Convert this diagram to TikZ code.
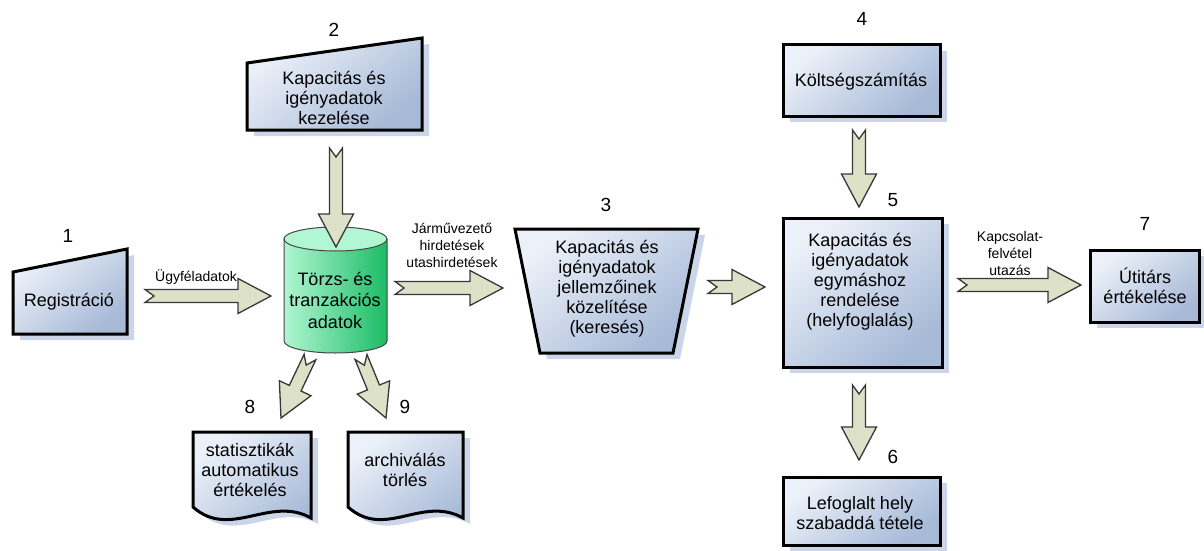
\documentclass[tikz,border=0pt]{standalone}
\usepackage{fontspec}
\setmainfont{Liberation Sans}
\usetikzlibrary{calc}

\definecolor{boxlight}{RGB}{236,241,249}
\definecolor{boxdark}{RGB}{166,185,215}
\definecolor{shadowblue}{RGB}{202,213,233}
\definecolor{arrowfill}{RGB}{221,225,200}
\definecolor{arrowline}{RGB}{55,55,55}
\definecolor{cylmint}{RGB}{176,246,210}
\definecolor{cylgreen}{RGB}{28,188,102}
\definecolor{cyltop}{RGB}{178,247,212}
\definecolor{cylline}{RGB}{70,70,70}

\tikzset{
  procbox/.style={draw=black, line width=3pt, line join=miter,
    top color=boxlight, bottom color=boxdark, shading angle=40},
  boxshadow/.style={fill=shadowblue},
  boxtext/.style={align=center, font=\fontsize{18}{20}\selectfont, inner sep=0pt},
  numlabel/.style={font=\fontsize{19}{20}\selectfont, inner sep=0pt},
  flowlabel/.style={align=center, font=\fontsize{14}{17}\selectfont, inner sep=0pt},
  fatarrow/.style={fill=arrowfill, draw=arrowline, line width=1.3pt, line join=miter},
}

% notched block arrow from #1 to #2
\newcommand\fatarrow[2]{%
  \coordinate (fahead) at ($(#2)!33pt!(#1)$);
  \path[fatarrow]
    ($(#1)!6.5pt!90:(#2)$) -- ($(#1)!9pt!(#2)$) -- ($(#1)!6.5pt!-90:(#2)$)
    -- ($(fahead)!6.5pt!-90:(#2)$) -- ($(fahead)!17.5pt!-90:(#2)$) -- (#2)
    -- ($(fahead)!17.5pt!90:(#2)$) -- ($(fahead)!6.5pt!90:(#2)$) -- cycle;
}

\begin{document}
\begin{tikzpicture}[x=1pt, y=-1pt]
\useasboundingbox (0,0) rectangle (1204,551);

% ---- 1: manual input "Registráció"
\fill[boxshadow, shift={(7,6)}] (13,272) -- (127,249) -- (127,334) -- (13,334) -- cycle;
\path[procbox] (13,272) -- (127,249) -- (127,334) -- (13,334) -- cycle;
\node[boxtext] (reg) at (69,302) {Registráció};
\node[numlabel] (n1) at (68,236) {1};

% ---- 2: manual input "Kapacitás és igényadatok kezelése"
\fill[boxshadow, shift={(7,6)}] (247,63) -- (422,38) -- (422,130) -- (247,130) -- cycle;
\path[procbox] (247,63) -- (422,38) -- (422,130) -- (247,130) -- cycle;
\node[boxtext] (kez) at (334,98) {Kapacitás és\\igényadatok\\kezelése};
\node[numlabel] (n2) at (334,30) {2};

% ---- database cylinder
\shade[left color=cylmint, right color=cylgreen, draw=cylline, line width=1pt]
  (284,239) -- (284,341)
  .. controls (284,347.6) and (307.1,353) .. (335.5,353)
  .. controls (363.9,353) and (387,347.6) .. (387,341)
  -- (387,239) -- cycle;
\path[fill=cyltop, draw=cylline, line width=1pt] (335.5,239) ellipse (51.5 and 12);
\node[boxtext, font=\fontsize{18}{21.5}\selectfont] (db) at (335,300) {Törzs- és\\tranzakciós\\adatok};

% ---- 3: trapezoid "közelítése (keresés)"
\fill[boxshadow, shift={(7,6)}] (515,229) -- (698,229) -- (673,353) -- (540,353) -- cycle;
\path[procbox] (515,229) -- (698,229) -- (673,353) -- (540,353) -- cycle;
\node[boxtext] (kereses) at (607,289) {Kapacitás és\\igényadatok\\jellemzőinek\\közelítése\\(keresés)};
\node[numlabel] (n3) at (606,205) {3};

% ---- 4: "Költségszámítás"
\fill[boxshadow] (790,51) rectangle (947,122);
\path[procbox] (783,45) rectangle (940,116);
\node[boxtext] (koltseg) at (861,82) {Költségszámítás};
\node[numlabel] (n4) at (862,19) {4};

% ---- 5: "helyfoglalás"
\fill[boxshadow] (790,224) rectangle (949,373);
\path[procbox] (783,218) rectangle (942,367);
\node[boxtext] (hely) at (860,282) {Kapacitás és\\igényadatok\\egymáshoz\\rendelése\\(helyfoglalás)};
\node[numlabel] (n5) at (893,200) {5};

% ---- 6: "Lefoglalt hely szabaddá tétele"
\fill[boxshadow] (790,483) rectangle (947,551);
\path[procbox] (783,477) rectangle (940,545);
\node[boxtext] (szabad) at (860,513) {Lefoglalt hely\\szabaddá tétele};
\node[numlabel] (n6) at (893,457) {6};

% ---- 7: "Útitárs értékelése"
\fill[boxshadow] (1097,256) rectangle (1206,328);
\path[procbox] (1090,250) rectangle (1199,322);
\node[boxtext] (utitars) at (1145,286) {Útitárs\\értékelése};
\node[numlabel] (n7) at (1145,224) {7};

% ---- 8, 9: documents
\fill[boxshadow, shift={(7,6)}] (193,432) -- (311,432) -- (311,518)
  .. controls (270,495) and (230,540) .. (193,507) -- cycle;
\path[procbox] (193,432) -- (311,432) -- (311,518)
  .. controls (270,495) and (230,540) .. (193,507) -- cycle;
\node[boxtext] (stat) at (250,470) {statisztikák\\automatikus\\értékelés};
\node[numlabel] (n8) at (250,407) {8};

\fill[boxshadow, shift={(7,6)}] (348,432) -- (463,432) -- (463,518)
  .. controls (422,495) and (385,540) .. (348,507) -- cycle;
\path[procbox] (348,432) -- (463,432) -- (463,518)
  .. controls (422,495) and (385,540) .. (348,507) -- cycle;
\node[boxtext] (arch) at (405,470) {archiválás\\törlés};
\node[numlabel] (n9) at (405,407) {9};

% ---- connector end points
\coordinate (a1s) at (145,296);  \coordinate (a1e) at (271,296);
\coordinate (a2s) at (336,148);  \coordinate (a2e) at (336,247);
\coordinate (a3s) at (395,288);  \coordinate (a3e) at (503,288);
\coordinate (a4s) at (859,130);  \coordinate (a4e) at (859,207);
\coordinate (a5s) at (708,287);  \coordinate (a5e) at (765,287);
\coordinate (a6s) at (859,385);  \coordinate (a6e) at (859,460);
\coordinate (a7s) at (958,285);  \coordinate (a7e) at (1081,285);
\coordinate (a8s) at (310,357);  \coordinate (a8e) at (281,418);
\coordinate (a9s) at (361,357);  \coordinate (a9e) at (386,418);

\fatarrow{a1s}{a1e}
\fatarrow{a2s}{a2e}
\fatarrow{a3s}{a3e}
\fatarrow{a4s}{a4e}
\fatarrow{a5s}{a5e}
\fatarrow{a6s}{a6e}
\fatarrow{a7s}{a7e}
\fatarrow{a8s}{a8e}
\fatarrow{a9s}{a9e}

% ---- flow labels
\node[flowlabel] (l1) at (196,277) {Ügyféladatok};
\node[flowlabel] (l3) at (452,245) {Járművezető\\hirdetések\\utashirdetések};
\node[flowlabel] (l7) at (1010,253) {Kapcsolat-\\felvétel\\utazás};
\end{tikzpicture}
\end{document}
